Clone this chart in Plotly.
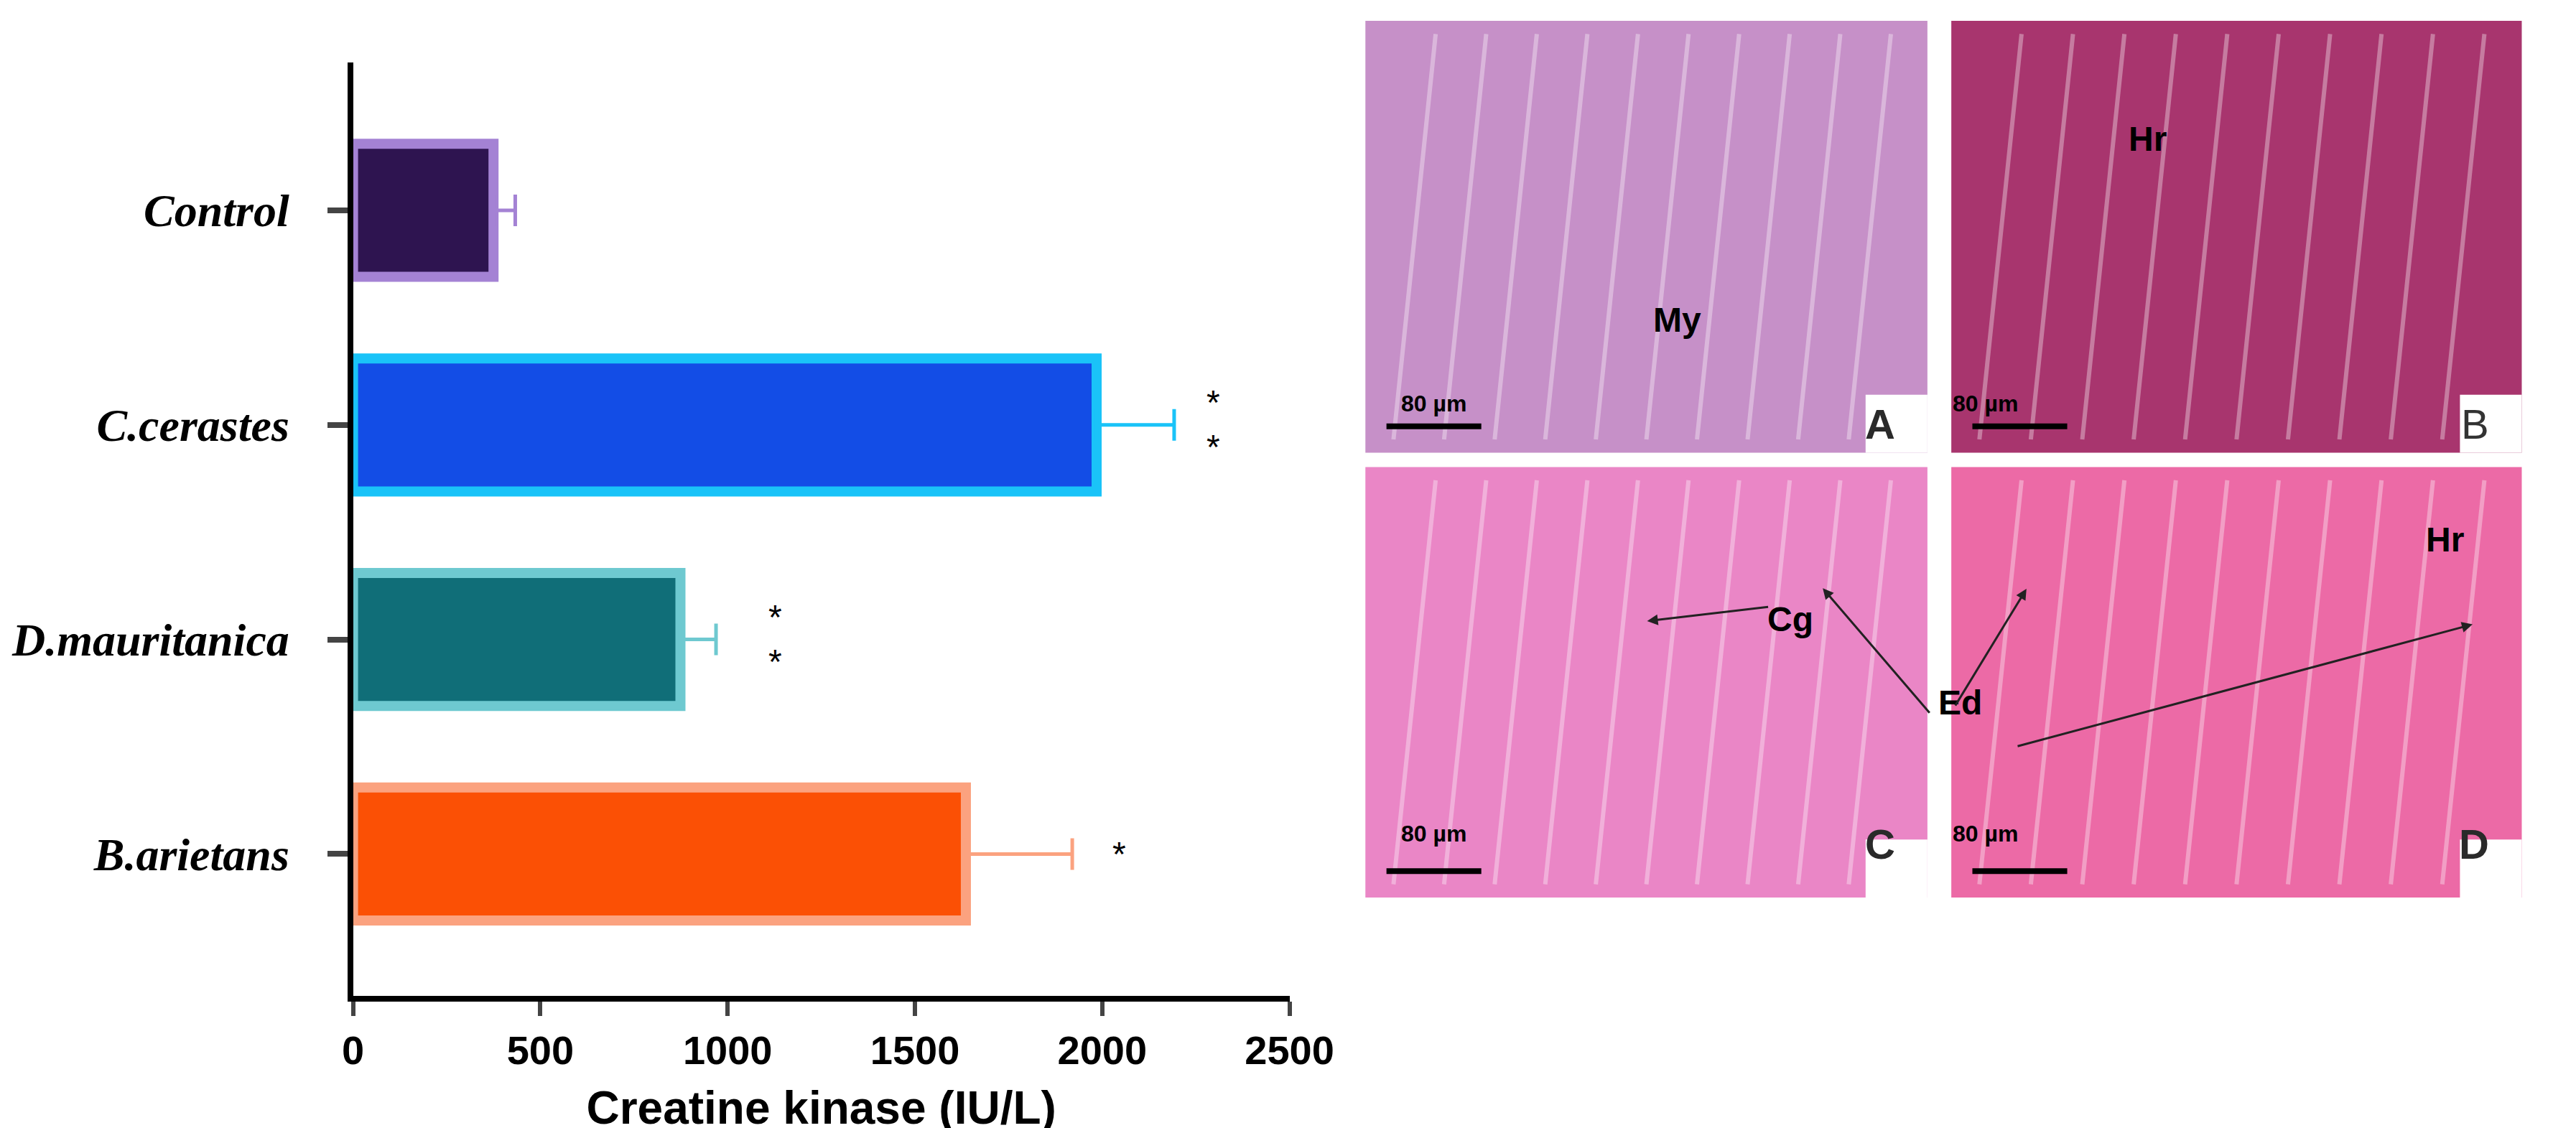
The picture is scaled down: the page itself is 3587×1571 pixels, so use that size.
import plotly.graph_objects as go

categories = ["Control", "C.cerastes", "D.mauritanica", "B.arietans"]
values = [375, 1985, 874, 1636]
err_plus = [58, 207, 95, 284]
fills = ["#2e1450", "#134de6", "#106e78", "#fb5005"]
edges = ["#a482d4", "#1ac3f8", "#6ec9d0", "#fba27f"]
stars = ["", "*<br>*", "*<br>*", "*"]
star_x = [0, 2297, 1128, 2045]

W, H = 3587, 1571
def px(x): return x / W
def py(y): return 1 - y / H

fig = go.Figure()
for c, v, e, f, ed in zip(categories, values, err_plus, fills, edges):
    fig.add_trace(go.Bar(
        y=[c], x=[v], orientation="h", width=0.62,
        marker=dict(color=f, line=dict(color=ed, width=14)),
        error_x=dict(type="data", symmetric=False, array=[e], arrayminus=[0],
                     color=ed, thickness=5, width=22),
        showlegend=False))

for c, s, sx in zip(categories, stars, star_x):
    if s:
        fig.add_annotation(x=sx, y=c, text=s, showarrow=False, xref="x", yref="y",
                           font=dict(family="Liberation Sans", size=48, color="black"))

fig.update_layout(
    width=W, height=H, margin=dict(l=0, r=0, t=0, b=0),
    plot_bgcolor="white", paper_bgcolor="white",
    xaxis=dict(domain=[px(478), px(1811)], range=[0, 2500], tickvals=[0, 500, 1000, 1500, 2000, 2500],
               showline=True, linecolor="black", linewidth=8, ticks="outside", ticklen=20, tickwidth=6,
               showgrid=False, zeroline=False,
               tickfont=dict(family="Liberation Sans Narrow, Liberation Sans", size=56, color="black", weight="bold"),
               title=dict(text="Creatine kinase (IU/L)", standoff=40,
                          font=dict(family="Liberation Sans Narrow, Liberation Sans", size=64, color="black", weight="bold"))),
    yaxis=dict(domain=[py(1504), py(86)], categoryorder="array", categoryarray=categories,
               range=[3.66, -0.69], showline=True, linecolor="black", linewidth=8,
               ticks="outside", ticklen=28, tickwidth=8, showgrid=False, ticklabelstandoff=40,
               tickfont=dict(family="Liberation Serif", size=64, color="black", weight="bold", style="italic")),
)

panels = [
    (1919, 2719, 23, 679, "#c690c8", "A", "#2a2a2a"),
    (2753, 3565, 23, 679, "#a8356e", "B", "#333333"),
    (1919, 2719, 701, 1355, "#ea86c6", "C", "#2a2a2a"),
    (2753, 3565, 701, 1355, "#ec6aa6", "D", "#2a2a2a"),
]
shapes = []
for x0, x1, y0, y1, col, lab, lc in panels:
    shapes.append(dict(type="rect", xref="paper", yref="paper", x0=px(x0), x1=px(x1), y0=py(y1), y1=py(y0),
                       fillcolor=col, line=dict(width=0), layer="below"))
    for k in range(10):
        sx = x0 + 40 + k * (x1 - x0 - 80) / 10
        shapes.append(dict(type="line", xref="paper", yref="paper", x0=px(sx), x1=px(min(sx + 60, x1)),
                           y0=py(y1 - 20), y1=py(y0 + 20), line=dict(color="rgba(255,255,255,0.35)", width=6)))
    shapes.append(dict(type="rect", xref="paper", yref="paper", x0=px(x1 - 88), x1=px(x1), y0=py(y1), y1=py(y1 - 88),
                       fillcolor="white", line=dict(width=0)))
    fig.add_annotation(x=px(x1 - 44), y=py(y1 - 44), xref="paper", yref="paper", text=lab, showarrow=False,
                       font=dict(family="Liberation Sans", size=58, color=lc, weight="bold" if lab != "B" else "normal"))
    shapes.append(dict(type="line", xref="paper", yref="paper", x0=px(x0 + 30), x1=px(x0 + 165),
                       y0=py(y1 - 40), y1=py(y1 - 40), line=dict(color="black", width=8)))
    fig.add_annotation(x=px(x0 + 97), y=py(y1 - 75), xref="paper", yref="paper", text="80 µm", showarrow=False,
                       font=dict(family="Liberation Sans", size=32, color="black", weight="bold"))
fig.update_layout(shapes=shapes)

labels = [("My", 2399, 446), ("Hr", 3062, 171), ("Cg", 2559, 932), ("Hr", 3485, 811), ("Ed", 2799, 1090)]
for t, x, y in labels:
    fig.add_annotation(x=px(x), y=py(y), xref="paper", yref="paper", text=t, showarrow=False,
                       font=dict(family="Liberation Sans", size=48, color="black", weight="bold"))

arrows = [((2490, 915), (2320, 935)), ((2760, 1050), (2860, 886)), ((2720, 1060), (2570, 885)),
          ((2860, 1110), (3495, 940))]
for (tx, ty), (hx, hy) in arrows:
    fig.add_annotation(x=px(hx), y=py(hy), ax=tx - hx, ay=ty - hy, xref="paper", yref="paper",
                       axref="pixel", ayref="pixel", text="", showarrow=True, arrowhead=2,
                       arrowwidth=3, arrowcolor="#222222")

fig.write_html("out.html")
